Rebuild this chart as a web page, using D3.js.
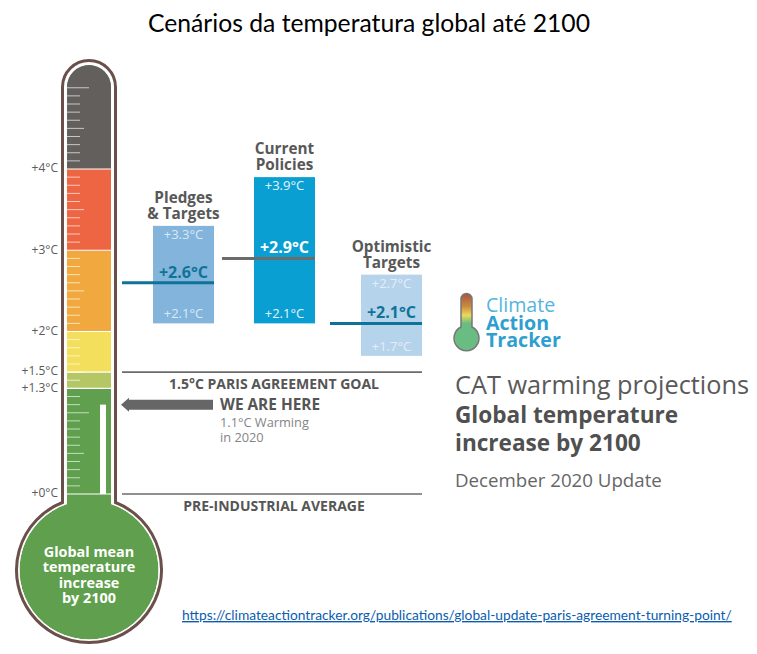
<!DOCTYPE html>
<meta charset="utf-8">
<style>

body {
  margin: 0;
  background: #fff;
}

svg {
  display: block;
}

text {
  font-family: "Open Sans", sans-serif;
}

</style>
<body>
<script src="https://d3js.org/d3.v7.min.js"></script>
<script>

var scenarios = ["Pledges & Targets", "Current Policies", "Optimistic Targets"],
    scenarioLines = [["Pledges", "& Targets"], ["Current", "Policies"], ["Optimistic", "Targets"]],
    lows = [2.1, 2.1, 1.7],
    highs = [3.3, 3.9, 2.7],
    medians = [2.6, 2.9, 2.1];

var bandEdges = [0, 1.3, 1.5, 2, 3, 4, 5.4],
    bandColors = ["#5f9f4d", "#b4c764", "#f3df5c", "#f1a93f", "#ee6543", "#635f5d"];

var axisTicks = [0, 1.3, 1.5, 2, 3, 4],
    scaleTenths = d3.range(1, 51).filter(function(d) { return d !== 20 && d !== 30 && d !== 40; }),
    goalValue = 1.5,
    nowValue = 1.1;

var width = 757,
    height = 654;

var svg = d3.select("body").append("svg")
    .attr("width", width)
    .attr("height", height);

var y = d3.scaleLinear().domain([0, 4]).range([494, 169]);

// thermometer outline, same shape for the brown line and the fill
function bulbShape(halfWidth, radius) {
  var cx = 89, topY = 87, bulbY = 570,
      neck = bulbY - Math.sqrt(radius * radius - halfWidth * halfWidth);
  return "M" + (cx - halfWidth) + "," + topY
      + "A" + halfWidth + "," + halfWidth + " 0 0,1 " + (cx + halfWidth) + "," + topY
      + "L" + (cx + halfWidth) + "," + neck
      + "A" + radius + "," + radius + " 0 1,1 " + (cx - halfWidth) + "," + neck
      + "Z";
}

svg.append("text")
    .attr("x", 369)
    .attr("y", 32)
    .attr("text-anchor", "middle")
    .style("font-family", "Lato, sans-serif")
    .style("font-size", "24.7px")
    .style("fill", "#000")
    .text("Cenários da temperatura global até 2100");

svg.append("path")
    .attr("d", bulbShape(26.5, 72.5))
    .attr("fill", "#fff")
    .attr("stroke", "#6b4f4a")
    .attr("stroke-width", 3);

svg.append("clipPath")
    .attr("id", "inner")
  .append("path")
    .attr("d", bulbShape(22, 69.5));

var tube = svg.append("g").attr("clip-path", "url(#inner)");

tube.append("path")
    .attr("d", bulbShape(22, 69.5))
    .attr("fill", bandColors[0]);

tube.selectAll("rect.band")
    .data(bandColors)
  .enter().append("rect")
    .attr("class", "band")
    .attr("x", 67)
    .attr("width", 44)
    .attr("y", function(d, i) { return y(bandEdges[i + 1]); })
    .attr("height", function(d, i) { return y(bandEdges[i]) - y(bandEdges[i + 1]); })
    .attr("fill", function(d) { return d; });

tube.selectAll("line.edge")
    .data(axisTicks)
  .enter().append("line")
    .attr("class", "edge")
    .attr("x1", 67)
    .attr("x2", 111)
    .attr("y1", function(d) { return y(d); })
    .attr("y2", function(d) { return y(d); })
    .attr("stroke", "#fff")
    .attr("stroke-width", 1.2);

// every 0.1 degree, longer at the half and whole degrees
tube.selectAll("line.tick")
    .data(scaleTenths)
  .enter().append("line")
    .attr("class", "tick")
    .attr("x1", 67)
    .attr("x2", function(d) {
      return d === 10 || d === 50 ? 89 : d % 5 === 0 ? 84 : 80;
    })
    .attr("y1", function(d) { return y(d / 10); })
    .attr("y2", function(d) { return y(d / 10); })
    .attr("stroke", "#fff")
    .attr("stroke-opacity", 0.65)
    .attr("stroke-width", 1);

tube.append("rect")
    .attr("x", 100)
    .attr("width", 6)
    .attr("y", y(nowValue))
    .attr("height", y(0) - y(nowValue))
    .attr("fill", "#fff");

var axis = svg.append("g")
    .attr("transform", "translate(60,-1)")
    .call(d3.axisLeft(y)
      .tickValues(axisTicks)
      .tickSize(0)
      .tickPadding(2)
      .tickFormat(function(d) { return "+" + d + "°C"; }));

axis.select(".domain").remove();

axis.selectAll("text")
    .style("font-size", "12px")
    .style("fill", "#5a5a5a")
    .style("font-family", "'Open Sans', sans-serif");

var bulbLabel = ["Global mean", "temperature", "increase", "by 2100"];

svg.append("g").selectAll("text")
    .data(bulbLabel)
  .enter().append("text")
    .attr("x", 89)
    .attr("y", function(d, i) { return 557 + i * 15.4; })
    .attr("text-anchor", "middle")
    .style("font-size", "14.4px")
    .style("font-weight", 700)
    .style("fill", "#fff")
    .text(function(d) { return d; });

// scenario bars
var x = d3.scaleOrdinal().domain(scenarios).range([153, 254, 361]);

var barWidth = 61;

var barColors = ["#82b4dc", "#0a9fd2", "#b6d3ec"],
    lineStarts = [122, 222, 330],
    lineColors = ["#0f7399", "#6b6b6b", "#0f7399"],
    midColors = ["#0f7399", "#fff", "#0f7399"],
    endColors = ["#dbe9f5", "#e6f5fb", "#e3eef8"];

var bars = svg.selectAll("g.scenario")
    .data(scenarios)
  .enter().append("g")
    .attr("class", "scenario");

bars.append("rect")
    .attr("x", function(d) { return x(d); })
    .attr("width", barWidth)
    .attr("y", function(d, i) { return y(highs[i]); })
    .attr("height", function(d, i) { return y(lows[i]) - y(highs[i]); })
    .attr("fill", function(d, i) { return barColors[i]; });

bars.append("line")
    .attr("x1", function(d, i) { return lineStarts[i]; })
    .attr("x2", function(d) { return x(d) + barWidth; })
    .attr("y1", function(d, i) { return y(medians[i]); })
    .attr("y2", function(d, i) { return y(medians[i]); })
    .attr("stroke", function(d, i) { return lineColors[i]; })
    .attr("stroke-width", 3);

function temp(v) { return "+" + v.toFixed(1) + "°C"; }

bars.append("text")
    .attr("x", function(d) { return x(d) + barWidth / 2; })
    .attr("y", function(d, i) { return y(highs[i]) + 13; })
    .attr("text-anchor", "middle")
    .style("font-size", "13px")
    .style("fill", function(d, i) { return endColors[i]; })
    .text(function(d, i) { return temp(highs[i]); });

bars.append("text")
    .attr("x", function(d) { return x(d) + barWidth / 2; })
    .attr("y", function(d, i) { return y(lows[i]) - 5; })
    .attr("text-anchor", "middle")
    .style("font-size", "13px")
    .style("fill", function(d, i) { return endColors[i]; })
    .text(function(d, i) { return temp(lows[i]); });

bars.append("text")
    .attr("x", function(d) { return x(d) + barWidth / 2; })
    .attr("y", function(d, i) { return y(medians[i]) - 5; })
    .attr("text-anchor", "middle")
    .style("font-size", "16px")
    .style("font-weight", 700)
    .style("fill", function(d, i) { return midColors[i]; })
    .text(function(d, i) { return temp(medians[i]); });

bars.each(function(d, i) {
  d3.select(this).selectAll("text.name")
      .data(scenarioLines[i])
    .enter().append("text")
      .attr("class", "name")
      .attr("x", x(d) + barWidth / 2)
      .attr("y", function(line, j) { return y(highs[i]) - 23 + j * 16; })
      .attr("text-anchor", "middle")
      .style("font-size", "15.3px")
      .style("font-weight", 700)
      .style("fill", "#585858")
      .text(function(line) { return line; });
});

// reference lines
var refValues = [goalValue, 0],
    refLabels = ["1.5°C PARIS AGREEMENT GOAL", "PRE-INDUSTRIAL AVERAGE"];

svg.selectAll("line.ref")
    .data(refValues)
  .enter().append("line")
    .attr("class", "ref")
    .attr("x1", 122)
    .attr("x2", 422)
    .attr("y1", function(d) { return y(d); })
    .attr("y2", function(d) { return y(d); })
    .attr("stroke", "#6b6b6b")
    .attr("stroke-width", 1.6);

svg.selectAll("text.ref")
    .data(refLabels)
  .enter().append("text")
    .attr("class", "ref")
    .attr("x", 274)
    .attr("y", function(d, i) { return y(refValues[i]) + 17; })
    .attr("text-anchor", "middle")
    .style("font-size", "14px")
    .style("font-weight", 700)
    .style("fill", "#555")
    .text(function(d) { return d; });

// we are here
var arrowY = y(nowValue);

svg.append("path")
    .attr("d", "M121," + arrowY
      + "L129," + (arrowY - 7)
      + "V" + (arrowY - 5)
      + "H213"
      + "V" + (arrowY + 5)
      + "H129"
      + "V" + (arrowY + 7)
      + "Z")
    .attr("fill", "#666");

svg.append("text")
    .attr("x", 220)
    .attr("y", 410)
    .style("font-size", "15.4px")
    .style("font-weight", 700)
    .style("fill", "#555")
    .text("WE ARE HERE");

svg.selectAll("text.now")
    .data(["1.1°C Warming", "in 2020"])
  .enter().append("text")
    .attr("class", "now")
    .attr("x", 220)
    .attr("y", function(d, i) { return 427 + i * 15; })
    .style("font-size", "12.8px")
    .style("fill", "#858585")
    .text(function(d) { return d; });

// logo
var logoGrad = svg.append("defs").append("linearGradient")
    .attr("id", "logoGrad")
    .attr("x1", "0%")
    .attr("y1", "0%")
    .attr("x2", "0%")
    .attr("y2", "100%");

logoGrad.selectAll("stop")
    .data([["0%", "#a8533f"], ["22%", "#c98a3f"], ["38%", "#ecd95a"], ["52%", "#69bd83"], ["100%", "#69bd83"]])
  .enter().append("stop")
    .attr("offset", function(d) { return d[0]; })
    .attr("stop-color", function(d) { return d[1]; });

svg.append("path")
    .attr("d", "M461,299A5.5,5.5 0 0,1 472,299V327A12.5,12.5 0 1,1 461,327Z")
    .attr("fill", "url(#logoGrad)")
    .attr("stroke", "#777")
    .attr("stroke-width", 1.5);

var logoWords = ["Climate", "Action", "Tracker"];

svg.selectAll("text.logo")
    .data(logoWords)
  .enter().append("text")
    .attr("class", "logo")
    .attr("x", 486)
    .attr("y", function(d, i) { return 312 + i * 17.5; })
    .style("font-size", "19.6px")
    .style("font-weight", function(d, i) { return i ? 700 : 400; })
    .style("fill", function(d, i) { return i ? "#2f9fd0" : "#55b5dc"; })
    .text(function(d) { return d; });

// side heading
svg.append("text")
    .attr("x", 455)
    .attr("y", 394)
    .style("font-size", "25.3px")
    .style("fill", "#595959")
    .text("CAT warming projections");

svg.selectAll("text.head")
    .data(["Global temperature", "increase by 2100"])
  .enter().append("text")
    .attr("class", "head")
    .attr("x", 455)
    .attr("y", function(d, i) { return 423 + i * 28; })
    .style("font-size", "22.6px")
    .style("font-weight", 700)
    .style("fill", "#505050")
    .text(function(d) { return d; });

svg.append("text")
    .attr("x", 455)
    .attr("y", 487)
    .style("font-size", "18.7px")
    .style("fill", "#666")
    .text("December 2020 Update");

svg.append("text")
    .attr("x", 182)
    .attr("y", 620)
    .style("font-family", "Lato, sans-serif")
    .style("font-size", "13.75px")
    .style("fill", "#0b5cb0")
    .style("text-decoration", "underline")
    .text("https://climateactiontracker.org/publications/global-update-paris-agreement-turning-point/");

</script>
